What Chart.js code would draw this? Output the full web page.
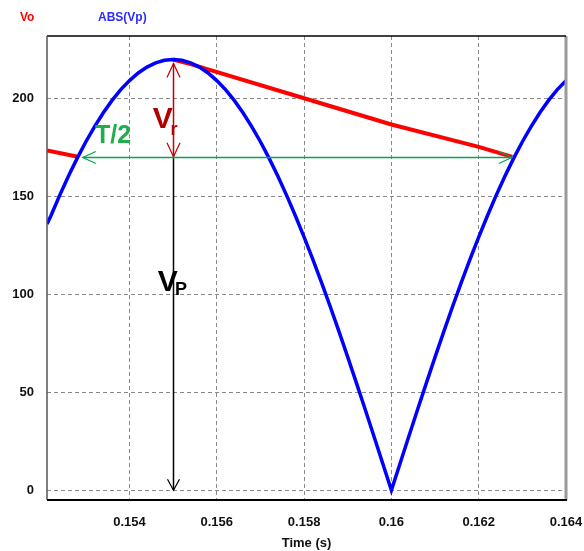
<!DOCTYPE html>
<html>
<head>
<meta charset="utf-8">
<script src="https://cdn.jsdelivr.net/npm/chart.js@4.4.1/dist/chart.umd.min.js"></script>
<style>
    body { margin: 0; background: #ffffff; }
    #wrap { width: 584px; height: 551px; }
</style>
</head>
<body>
<div id="wrap"><canvas id="waveChart" width="584" height="551"></canvas></div>
<script>
// time axis (s) and rectified input |Vp|
const timeVp = [0.15211, 0.1522, 0.1524, 0.1526, 0.1528, 0.1530, 0.1532, 0.1534, 0.1536, 0.1538,
    0.1540, 0.1542, 0.1544, 0.1546, 0.1548, 0.1550, 0.1552, 0.1554, 0.1556, 0.1558,
    0.1560, 0.1562, 0.1564, 0.1566, 0.1568, 0.1570, 0.1572, 0.1574, 0.1576, 0.1578,
    0.1580, 0.1582, 0.1584, 0.1586, 0.1588, 0.1590, 0.1592, 0.1594, 0.1596, 0.1598,
    0.1600, 0.1602, 0.1604, 0.1606, 0.1608, 0.1610, 0.1612, 0.1614, 0.1616, 0.1618,
    0.1620, 0.1622, 0.1624, 0.1626, 0.1628, 0.1630, 0.1632, 0.1634, 0.1636, 0.1638, 0.1640];
const absVp = [136, 140.2, 150.6, 160.4, 169.5, 178.0, 185.7, 192.8, 199.1, 204.6,
    209.2, 213.1, 216.1, 218.3, 219.6, 220, 219.6, 218.3, 216.1, 213.1,
    209.2, 204.6, 199.1, 192.8, 185.7, 178.0, 169.5, 160.4, 150.6, 140.2,
    129.3, 117.9, 106.0, 93.7, 81.0, 68.0, 54.7, 41.2, 27.6, 13.8,
    0, 13.8, 27.6, 41.2, 54.7, 68.0, 81.0, 93.7, 106.0, 117.9,
    129.3, 140.2, 150.6, 160.4, 169.5, 178.0, 185.7, 192.8, 199.1, 204.6, 209.2];

// output Vo (capacitor discharge parts; null = hidden under the blue curve)
const timeVo = [0.15211, 0.15282, 0.1540, 0.1550, 0.1554, 0.1580, 0.1600, 0.1620, 0.16277];
const vo = [173.5, 170.3, null, 220, 217.6, 200.2, 186.8, 175.4, 170.3];

const xTicks = [0.154, 0.156, 0.158, 0.16, 0.162, 0.164];
const xTickLabels = ['0.154', '0.156', '0.158', '0.16', '0.162', '0.164'];
const yTicks = [0, 50, 100, 150, 200];

// annotation values
const peakTime = 0.155;
const peakV = 218;
const rippleLow = 170.3;
const halfStart = 0.15293;
const halfEnd = 0.16276;

const FONT = '"Liberation Sans", Arial, sans-serif';

function arrowHead(ctx, x, y, dx, dy, len, half) {
    // open V head, tip at (x,y), pointing along (dx,dy)
    const nx = -dy, ny = dx;
    ctx.beginPath();
    ctx.moveTo(x - dx * len + nx * half, y - dy * len + ny * half);
    ctx.lineTo(x, y);
    ctx.lineTo(x - dx * len - nx * half, y - dy * len - ny * half);
    ctx.stroke();
}

const annotations = {
    id: 'annotations',
    afterDraw(chart) {
        const ctx = chart.ctx;
        const xs = chart.scales.x, ys = chart.scales.y;
        const area = chart.chartArea;
        const px = v => xs.getPixelForValue(v);
        const py = v => ys.getPixelForValue(v);
        ctx.save();

        // frame
        ctx.lineWidth = 3;
        ctx.strokeStyle = '#9a9a9a';
        ctx.beginPath();
        ctx.moveTo(area.right, area.top);
        ctx.lineTo(area.right, area.bottom);
        ctx.stroke();
        ctx.strokeStyle = '#000000';
        ctx.lineWidth = 1.5;
        ctx.beginPath();
        ctx.moveTo(area.left, area.top);
        ctx.lineTo(area.right, area.top);
        ctx.stroke();
        ctx.strokeStyle = '#555555';
        ctx.beginPath();
        ctx.moveTo(area.left, area.top);
        ctx.lineTo(area.left, area.bottom);
        ctx.stroke();
        ctx.strokeStyle = '#000000';
        ctx.lineWidth = 2;
        ctx.beginPath();
        ctx.moveTo(area.left, area.bottom);
        ctx.lineTo(area.right + 1, area.bottom);
        ctx.stroke();

        const xp = Math.round(px(peakTime)) + 0.5;

        // Vp black arrow
        ctx.strokeStyle = '#000000';
        ctx.lineWidth = 1.5;
        ctx.beginPath();
        ctx.moveTo(xp, py(rippleLow));
        ctx.lineTo(xp, py(0));
        ctx.stroke();
        ctx.lineWidth = 1.2;
        arrowHead(ctx, xp, py(0), 0, 1, 11, 6);

        // Vr red double arrow
        ctx.strokeStyle = '#c00000';
        ctx.lineWidth = 1.5;
        ctx.beginPath();
        ctx.moveTo(xp, py(peakV));
        ctx.lineTo(xp, py(rippleLow));
        ctx.stroke();
        ctx.lineWidth = 1.2;
        arrowHead(ctx, xp, py(peakV), 0, -1, 14, 6.5);
        arrowHead(ctx, xp, py(rippleLow), 0, 1, 14, 6.5);

        // T/2 green double arrow
        ctx.strokeStyle = '#00a650';
        ctx.lineWidth = 1.5;
        const yg = Math.round(py(rippleLow)) + 0.5;
        ctx.beginPath();
        ctx.moveTo(px(halfStart), yg);
        ctx.lineTo(px(halfEnd), yg);
        ctx.stroke();
        ctx.lineWidth = 1.2;
        arrowHead(ctx, px(halfStart), yg, -1, 0, 13, 6);
        arrowHead(ctx, px(halfEnd), yg, 1, 0, 13, 6);

        // labels
        ctx.textBaseline = 'alphabetic';
        ctx.textAlign = 'left';
        ctx.fillStyle = '#b00000';
        ctx.font = 'bold 30px ' + FONT;
        ctx.fillText('V', px(0.15453), py(185));
        ctx.font = 'bold 18px ' + FONT;
        ctx.fillText('r', px(0.15494), py(181.5));

        ctx.fillStyle = '#000000';
        ctx.font = 'bold 30px ' + FONT;
        ctx.fillText('V', px(0.15465), py(102));
        ctx.font = 'bold 18px ' + FONT;
        ctx.fillText('P', px(0.15504), py(99.6));

        ctx.fillStyle = '#1fae4b';
        ctx.font = 'bold 25px ' + FONT;
        ctx.fillText('T/2', px(0.15321), py(177.5));

        // legend
        ctx.font = 'bold 12px ' + FONT;
        ctx.fillStyle = '#ff0000';
        ctx.fillText('Vo', 20, 21);
        ctx.fillStyle = '#2b2bff';
        ctx.fillText('ABS(Vp)', 98, 21);

        ctx.restore();
    }
};

const ctx = document.getElementById('waveChart').getContext('2d');
new Chart(ctx, {
    type: 'line',
    data: {
        datasets: [{
            label: 'ABS(Vp)',
            data: timeVp.map((t, i) => ({ x: t, y: absVp[i] })),
            borderColor: '#0000ff',
            borderWidth: 3.5,
            pointRadius: 0,
            tension: 0
        }, {
            label: 'Vo',
            data: timeVo.map((t, i) => ({ x: t, y: vo[i] })),
            borderColor: '#ff0000',
            borderWidth: 4,
            pointRadius: 0,
            spanGaps: false,
            tension: 0
        }]
    },
    options: {
        responsive: false,
        animation: false,
        layout: {
            padding: { top: 36, right: 18, left: 0, bottom: 0 }
        },
        plugins: {
            legend: { display: false },
            tooltip: { enabled: false }
        },
        scales: {
            x: {
                type: 'linear',
                min: 0.15211,
                max: 0.164,
                afterBuildTicks: function(scale) {
                    scale.ticks = xTicks.map(v => ({ value: v }));
                },
                afterFit: function(scale) {
                    scale.height = 51;
                    scale.paddingLeft = 0;
                    scale.paddingRight = 0;
                },
                grid: {
                    color: '#8a8a8a',
                    lineWidth: 1,
                    drawTicks: false
                },
                border: { display: false, dash: [4, 3] },
                ticks: {
                    padding: 15,
                    color: '#111111',
                    font: { family: FONT, size: 13, weight: 'bold' },
                    maxRotation: 0,
                    autoSkip: false,
                    callback: function(value) {
                        const i = xTicks.indexOf(value);
                        return i >= 0 ? xTickLabels[i] : '';
                    }
                },
                title: {
                    display: true,
                    text: 'Time (s)',
                    color: '#111111',
                    font: { family: FONT, size: 13, weight: 'bold' },
                    padding: { top: 0, bottom: 0 }
                }
            },
            y: {
                type: 'linear',
                min: -5,
                max: 232,
                afterBuildTicks: function(scale) {
                    scale.ticks = yTicks.map(v => ({ value: v }));
                },
                afterFit: function(scale) {
                    scale.width = 47;
                },
                grid: {
                    color: '#8a8a8a',
                    lineWidth: 1,
                    drawTicks: false
                },
                border: { display: false, dash: [4, 3] },
                ticks: {
                    padding: 13,
                    color: '#111111',
                    font: { family: FONT, size: 13, weight: 'bold' }
                }
            }
        }
    },
    plugins: [annotations]
});
</script>
</body>
</html>
